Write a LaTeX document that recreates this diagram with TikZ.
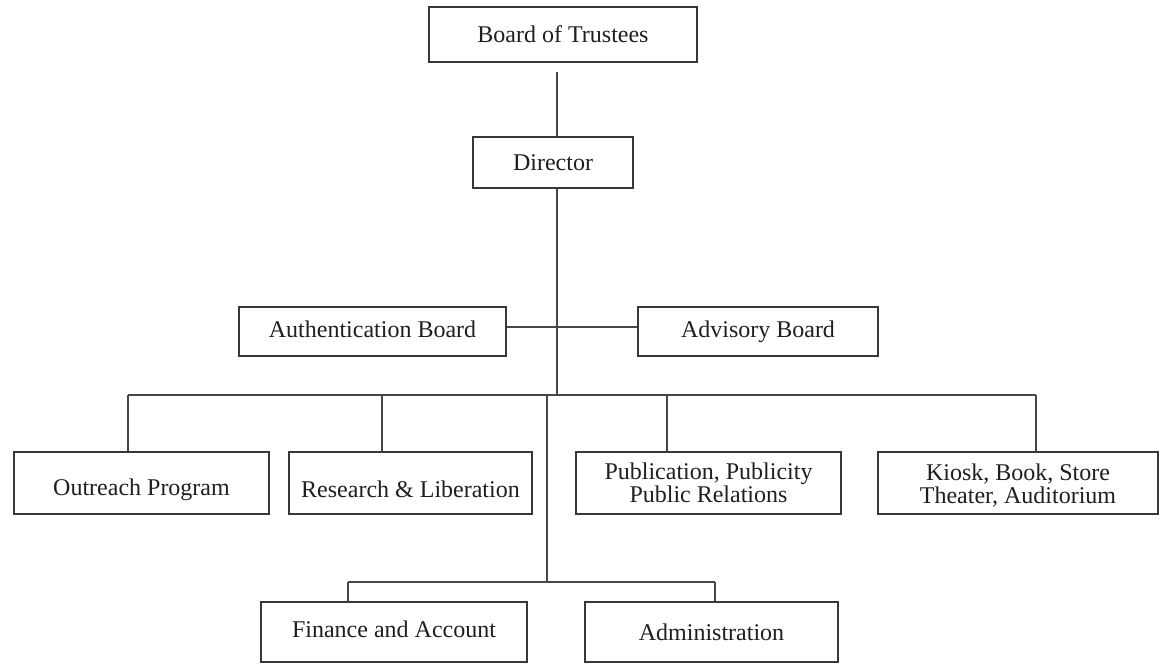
\documentclass[tikz,border=0pt]{standalone}
\usepackage{fontspec}
\setmainfont{Liberation Serif}
\newcommand{\shiftdown}[2]{\raisebox{-#1}[\height][\depth]{#2}}
\begin{document}
\begin{tikzpicture}[x=1pt,y=-1pt,
  box/.style={draw=black!78, line width=2.8pt, inner sep=0pt, align=center,
    font=\fontsize{24}{22}\selectfont, text=black!88},
  conn/.style={draw=black!72, line width=2.8pt}]
\useasboundingbox (0,0) rectangle (1160,664);
\fill[white] (0,0) rectangle (1160,664);
% boxes
\node[box, minimum width=268pt, minimum height=55pt] (trustees) at (563,34.5) {Board of Trustees};
\node[box, minimum width=160pt, minimum height=51pt] (director) at (553,162.5) {Director};
\node[box, minimum width=267pt, minimum height=49pt] (auth) at (372.5,331.5) {\shiftdown{-2pt}{Authentication Board}};
\node[box, minimum width=240pt, minimum height=49pt] (advisory) at (758,331.5) {Advisory Board};
\node[box, minimum width=255pt, minimum height=62pt] (outreach) at (141.5,483) {\shiftdown{7pt}{Outreach Program}};
\node[box, minimum width=243pt, minimum height=62pt] (research) at (410.5,483) {\shiftdown{6pt}{Research \& Liberation}};
\node[box, minimum width=265pt, minimum height=62pt] (publication) at (708.5,483) {\shiftdown{3pt}{\begin{tabular}{@{}c@{}}Publication, Publicity\\[-1pt]Public Relations\end{tabular}}};
\node[box, minimum width=280pt, minimum height=62pt] (kiosk) at (1018,483) {\shiftdown{4pt}{\begin{tabular}{@{}c@{}}Kiosk, Book, Store\\[-1pt]Theater, Auditorium\end{tabular}}};
\node[box, minimum width=266pt, minimum height=60pt] (finance) at (394,632) {\shiftdown{-3pt}{Finance and Account}};
\node[box, minimum width=253pt, minimum height=60pt] (admin) at (711.5,632) {Administration};
% connector coordinates
\coordinate (ttop) at (557,72);
\coordinate (bus) at (557,395);
\coordinate (busL) at (128,395);
\coordinate (busR) at (1036,395);
\coordinate (tR) at (382,395);
\coordinate (tP) at (667,395);
\coordinate (fTop) at (547,395);
\coordinate (fMid) at (547,582);
\coordinate (fL) at (348,582);
\coordinate (fR) at (715,582);
% connectors
\draw[conn] (ttop) -- (ttop |- director.north);
\draw[conn] (director.south -| bus) -- (bus);
\draw[conn] ([yshift=4.5pt]auth.east) -- ([yshift=4.5pt]advisory.west);
\draw[conn] (busL) -- (busR);
\draw[conn] (busL) -- (busL |- outreach.north);
\draw[conn] (tR) -- (tR |- research.north);
\draw[conn] (tP) -- (tP |- publication.north);
\draw[conn] (busR) -- (busR |- kiosk.north);
\draw[conn] (fTop) -- (fMid);
\draw[conn] (fL) -- (fR);
\draw[conn] (fL) -- (fL |- finance.north);
\draw[conn] (fR) -- (fR |- admin.north);
\end{tikzpicture}
\end{document}
